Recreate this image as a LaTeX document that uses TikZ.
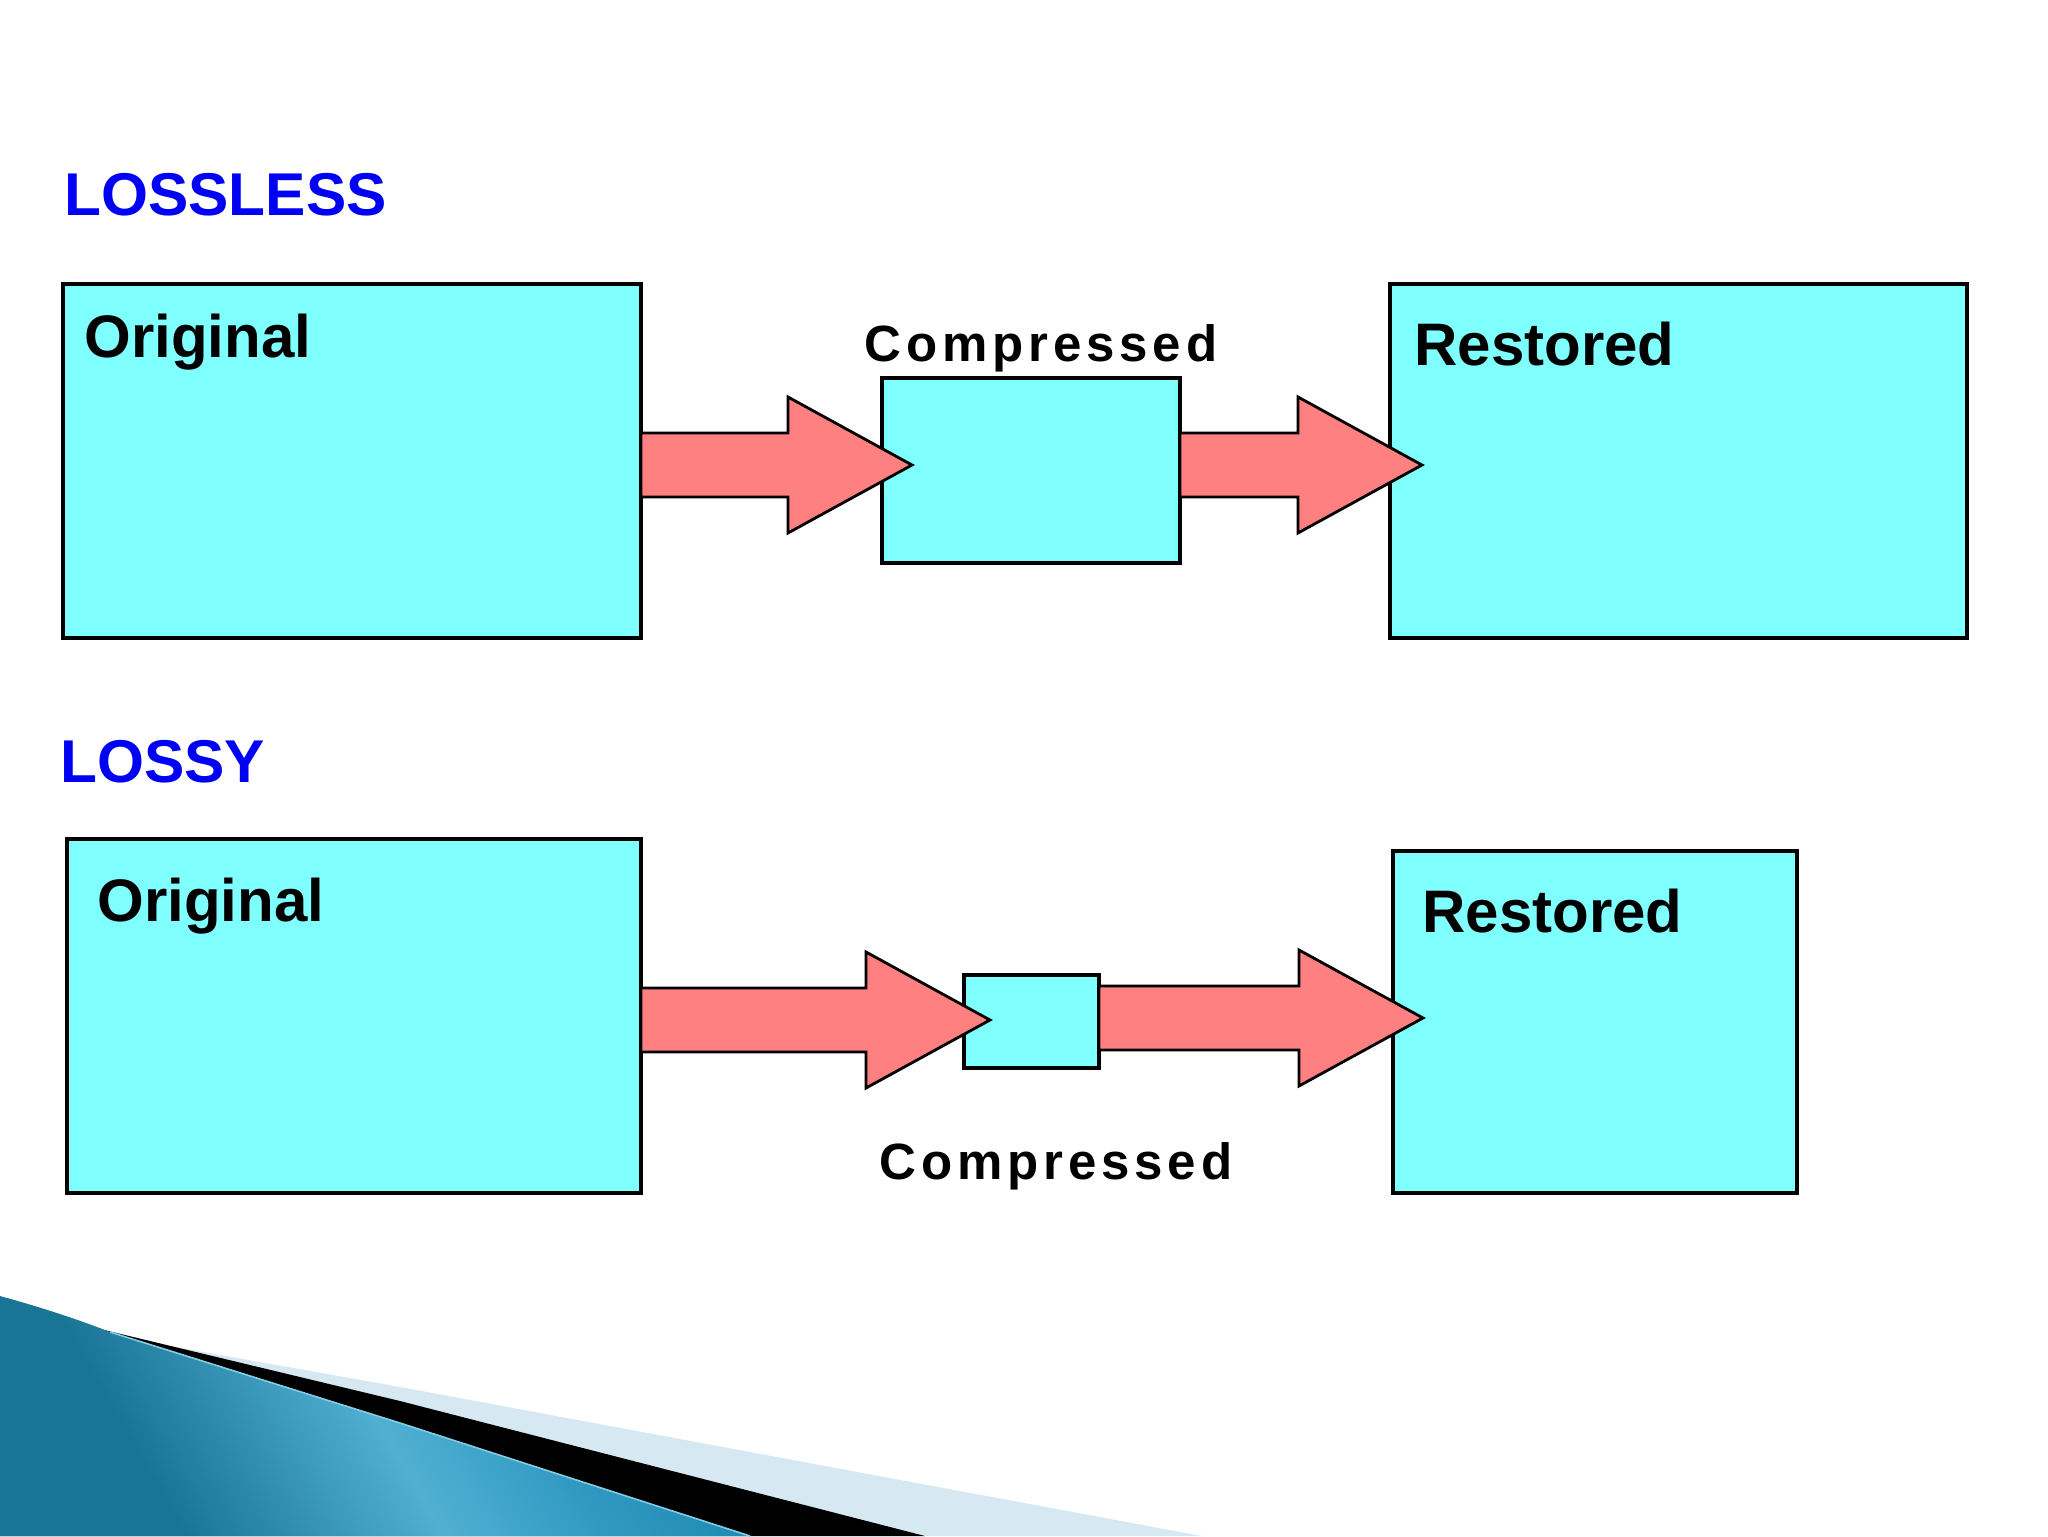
\documentclass[tikz,border=0pt]{standalone}
\usepackage{fontspec}
\setmainfont{Liberation Sans}
\newfontfamily\spacedfont[LetterSpace=9.6]{Liberation Sans}
\usetikzlibrary{calc}
\definecolor{boxcyan}{RGB}{128,255,255}
\definecolor{arrowred}{RGB}{255,128,128}
\definecolor{titleblue}{RGB}{0,0,245}
\definecolor{bandlight}{RGB}{214,232,241}
\definecolor{tealdk}{RGB}{26,116,150}
\definecolor{teallt}{RGB}{80,176,210}
\definecolor{tealmd}{RGB}{50,154,194}
\definecolor{tealedge}{RGB}{30,138,178}
\definecolor{edgeline}{RGB}{130,205,228}
\pgfdeclarehorizontalshading{tealgrad}{100bp}{color(0bp)=(tealdk); color(30bp)=(tealdk); color(50bp)=(teallt); color(62bp)=(tealmd); color(74bp)=(tealedge); color(100bp)=(tealedge)}
\tikzset{
  box/.style={draw=black, line width=1.6pt, fill=boxcyan, inner sep=0pt, outer sep=0pt},
  arr/.style={draw=black, line width=1.4pt, fill=arrowred, line join=miter},
  title/.style={font=\bfseries\fontsize{30.2pt}{32pt}\selectfont, text=titleblue, inner sep=0pt, anchor=base west},
  boxlabel/.style={font=\bfseries\fontsize{30pt}{32pt}\selectfont, text=black, inner sep=0pt, anchor=base west},
  complabel/.style={font=\spacedfont\bfseries\fontsize{25.5pt}{28pt}\selectfont, text=black, inner sep=0pt, anchor=base west}
}
\newcommand{\blockarr}[2]{%
  \filldraw[arr] ($(#1)+(0,-32)$) -- ($(#2)+(-124,-32)$) -- ($(#2)+(-124,-68)$) -- (#2)
    -- ($(#2)+(-124,68)$) -- ($(#2)+(-124,32)$) -- ($(#1)+(0,32)$) -- cycle;}
\begin{document}
\begin{tikzpicture}[x=0.5pt,y=-0.5pt]
\useasboundingbox (0,0) rectangle (2048,1536);
\fill[white] (0,0) rectangle (2048,1536);

% bottom decoration
\fill[bandlight] (105,1330) -- (170,1346) -- (400,1387) -- (1202,1536) -- (0,1536) -- cycle;
\fill[black] (100,1329) -- (400,1401) -- (925,1536) -- (0,1536) -- cycle;
\shade[shading=tealgrad, shading angle=30] (0,1296) .. controls (40,1307) and (80,1320) .. (110,1332) -- (400,1423) -- (750,1536) -- (0,1536) -- cycle;
\draw[edgeline, line width=0.8pt] (110,1332) -- (400,1423) -- (750,1536);

% titles
\node[title] (lossless) at (64,215) {LOSSLESS};
\node[title] (lossy) at (60,782) {LOSSY};

% lossless row
\node[box, minimum width=289pt, minimum height=177pt] (o1) at (352,461) {};
\node[box, minimum width=149pt, minimum height=92.5pt] (c1) at (1031,470.5) {};
\node[box, minimum width=288.5pt, minimum height=177pt] (r1) at (1678.5,461) {};

% lossy row
\node[box, minimum width=287pt, minimum height=177pt] (o2) at (354,1016) {};
\node[box, minimum width=67.5pt, minimum height=46.5pt] (c2) at (1031.5,1021.5) {};
\node[box, minimum width=202pt, minimum height=171pt] (r2) at (1595,1022) {};

% arrow tips and starts
\coordinate (t1) at (912,465);
\coordinate (t2) at (1422,465);
\coordinate (t3) at (990,1020);
\coordinate (t4) at (1423,1018);
\coordinate (s1) at (o1.east |- t1);
\coordinate (s2) at (c1.east |- t2);
\coordinate (s3) at (o2.east |- t3);
\coordinate (s4) at (c2.east |- t4);
\blockarr{s1}{t1}
\blockarr{s2}{t2}
\blockarr{s3}{t3}
\blockarr{s4}{t4}

% labels
\node[boxlabel] (lo1) at (84,357) {Original};
\node[boxlabel] (lr1) at (1414,365) {Restored};
\node[complabel] (lc1) at (864,361) {Compressed};
\node[boxlabel] (lo2) at (97,921) {Original};
\node[boxlabel] (lr2) at (1422,932) {Restored};
\node[complabel] (lc2) at (879,1179) {Compressed};
\end{tikzpicture}
\end{document}
